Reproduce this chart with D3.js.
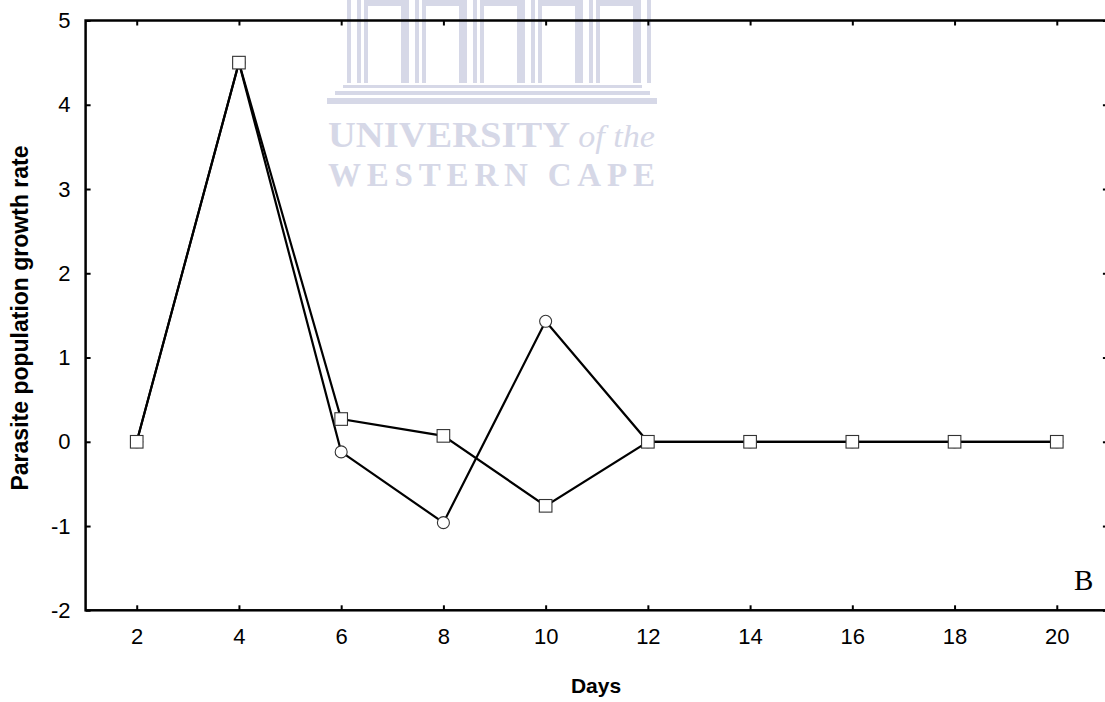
<!DOCTYPE html>
<html>
<head>
<meta charset="utf-8">
<script src="https://cdn.jsdelivr.net/npm/d3@7/dist/d3.min.js"></script>
<style>
  html, body { margin: 0; padding: 0; background: #fff; }
  svg { display: block; }
  .tick text { font-family: "Liberation Sans", Arial, sans-serif; font-size: 22px; fill: #000; }
</style>
</head>
<body>
<svg id="chart" width="1105" height="702"></svg>
<script>
// Growth rate of the parasite population by sampling day
const days = [2, 4, 6, 8, 10, 12, 14, 16, 18, 20];
const seriesCircle = [0, 4.5, -0.12, -0.96, 1.43, 0, 0, 0, 0, 0];
const seriesSquare = [0, 4.5, 0.27, 0.07, -0.76, 0, 0, 0, 0, 0];
const yTicks = [-2, -1, 0, 1, 2, 3, 4, 5];
const xTicks = [2, 4, 6, 8, 10, 12, 14, 16, 18, 20];

const svg = d3.select("#chart");

const x = d3.scaleLinear().domain([1, 21]).range([85.6, 1107.9]);
const y = d3.scaleLinear().domain([-2, 5]).range([610.3, 20.5]);

// Faint university crest behind the plot
const crest = "#d6d8e7";
const wm = svg.append("g").attr("fill", crest).attr("stroke", "none");
for (let i = 0; i < 6; i++) {
  const px = 347 + i * 58;
  wm.append("rect").attr("x", px).attr("y", 0).attr("width", 4).attr("height", 83);
  wm.append("rect").attr("x", px + 10).attr("y", 0).attr("width", 4).attr("height", 83);
}
for (let i = 0; i < 5; i++) {
  const bx = 347 + i * 58 + 19;
  wm.append("path")
    .attr("d", `M${bx},83 V0 H${bx + 37} V83`)
    .attr("fill", "none").attr("stroke", crest).attr("stroke-width", 4);
  wm.append("rect").attr("x", bx).attr("y", 0).attr("width", 37).attr("height", 6);
}
wm.append("rect").attr("x", 343).attr("y", 85).attr("width", 299).attr("height", 3);
wm.append("rect").attr("x", 335).attr("y", 91).attr("width", 315).attr("height", 4);
wm.append("rect").attr("x", 327).attr("y", 98).attr("width", 330).attr("height", 6);
const wmText = svg.append("g").attr("fill", crest)
  .attr("font-family", "'Liberation Serif', 'Times New Roman', serif");
const line1 = wmText.append("text").attr("x", 328).attr("y", 147)
  .attr("font-size", 35).attr("font-weight", "bold")
  .attr("textLength", 327).attr("lengthAdjust", "spacingAndGlyphs");
line1.append("tspan").text("UNIVERSITY ");
line1.append("tspan").attr("font-style", "italic").attr("font-weight", "normal")
  .attr("font-size", 31).text("of the");
wmText.append("text").attr("x", 328).attr("y", 186)
  .attr("font-size", 33).attr("font-weight", "bold")
  .attr("textLength", 327).attr("lengthAdjust", "spacing")
  .text("WESTERN CAPE");

// Axes on all four sides, ticks pointing inward
const axL = svg.append("g").attr("transform", `translate(${x(1)},0)`)
  .call(d3.axisLeft(y).tickValues(yTicks).tickSize(-5).tickPadding(15).tickFormat(d3.format("d")));
const axR = svg.append("g").attr("transform", `translate(${x(21)},0)`)
  .call(d3.axisRight(y).tickValues(yTicks).tickSize(-5).tickFormat(""));
const axB = svg.append("g").attr("transform", `translate(0,${y(-2)})`)
  .call(d3.axisBottom(x).tickValues(xTicks).tickSize(-5).tickPadding(18).tickFormat(d3.format("d")));
const axT = svg.append("g").attr("transform", `translate(0,${y(5)})`)
  .call(d3.axisTop(x).tickValues(xTicks).tickSize(-5).tickFormat(""));
[axL, axR, axB, axT].forEach(a => {
  a.select(".domain").remove();
  a.selectAll(".tick line").attr("stroke", "#000").attr("stroke-width", 2);
});
axL.selectAll(".tick text").text(d => d < 0 ? "-" + Math.abs(d) : d);

// Plot frame
svg.append("rect")
  .attr("x", x(1)).attr("y", y(5))
  .attr("width", x(21) - x(1)).attr("height", y(-2) - y(5))
  .attr("fill", "none").attr("stroke", "#000").attr("stroke-width", 2.5);

// Series lines
const line = d3.line().x((d, i) => x(days[i])).y(d => y(d));
[seriesCircle, seriesSquare].forEach(s => {
  svg.append("path").datum(s).attr("d", line)
    .attr("fill", "none").attr("stroke", "#000").attr("stroke-width", 2.2)
    .attr("stroke-linejoin", "miter");
});

// Markers
svg.append("g").selectAll("circle").data(seriesCircle).join("circle")
  .attr("cx", (d, i) => x(days[i])).attr("cy", d => y(d)).attr("r", 6)
  .attr("fill", "#fff").attr("stroke", "#333").attr("stroke-width", 1.1);
svg.append("g").selectAll("rect").data(seriesSquare).join("rect")
  .attr("x", (d, i) => x(days[i]) - 6.3).attr("y", d => y(d) - 6.3)
  .attr("width", 12.6).attr("height", 12.6)
  .attr("fill", "#fff").attr("stroke", "#333").attr("stroke-width", 1.1);

// Axis titles and panel letter
svg.append("text")
  .attr("transform", "translate(28,318) rotate(-90)")
  .attr("text-anchor", "middle")
  .attr("font-family", "'Liberation Sans', Arial, sans-serif")
  .attr("font-weight", "bold").attr("font-size", 23)
  .text("Parasite population growth rate");
svg.append("text")
  .attr("x", 596).attr("y", 693).attr("text-anchor", "middle")
  .attr("font-family", "'Liberation Sans', Arial, sans-serif")
  .attr("font-weight", "bold").attr("font-size", 21)
  .text("Days");
svg.append("text")
  .attr("x", 1074).attr("y", 590)
  .attr("font-family", "'Liberation Serif', 'Times New Roman', serif")
  .attr("font-size", 29)
  .text("B");
</script>
</body>
</html>
